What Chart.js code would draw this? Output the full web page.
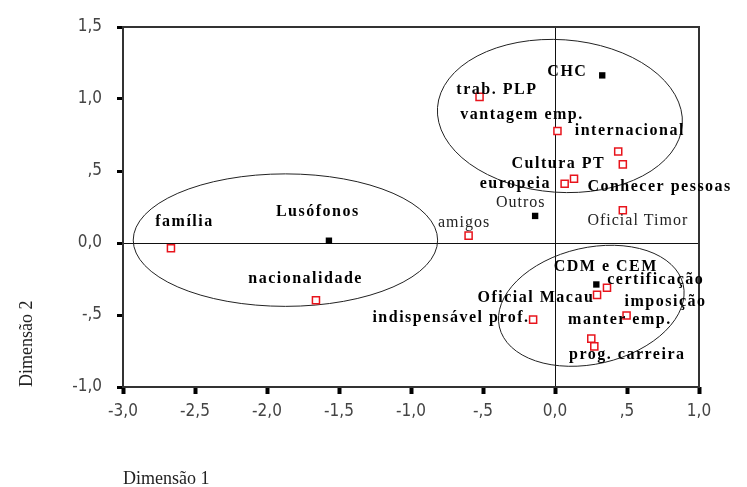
<!DOCTYPE html>
<html>
<head>
<meta charset="utf-8">
<script src="https://cdn.jsdelivr.net/npm/chart.js"></script>
<style>
  body { margin: 0; background: #fff; }
</style>
</head>
<body>
<canvas id="caChart" width="747" height="487"></canvas>
<script>
// Red hollow points (category positions)
const redX = [-2.667, -0.600, -1.660, -0.524, 0.017, 0.439, 0.471, 0.067, 0.132, 0.471, 0.361, 0.292, 0.497, -0.152, 0.252, 0.273];
const redY = [-0.037, 0.051, -0.397, 1.015, 0.778, 0.636, 0.546, 0.411, 0.446, 0.228, -0.311, -0.360, -0.504, -0.532, -0.664, -0.718];

// Black filled points (group positions)
const blackX = [-1.570, 0.328, -0.138, 0.287];
const blackY = [0.016, 1.164, 0.188, -0.288];

// Point labels, anchored at their left edge
const labelText = ["família", "Lusófonos", "amigos", "trab. PLP", "vantagem emp.", "CHC", "internacional",
	"Cultura PT", "europeia", "Conhecer pessoas", "Outros", "Oficial Timor", "nacionalidade", "CDM e CEM",
	"certificação", "Oficial Macau", "imposição", "indispensável prof.", "manter emp.", "prog. carreira"];
const labelX = [-2.776, -1.938, -0.813, -0.685, -0.658, -0.053, 0.137, -0.302, -0.523, 0.225, -0.410, 0.225,
	-2.130, -0.009, 0.363, -0.538, 0.483, -1.268, 0.091, 0.098];
const labelY = [0.148, 0.214, 0.141, 1.066, 0.892, 1.187, 0.780, 0.551, 0.411, 0.388, 0.277, 0.153,
	-0.251, -0.165, -0.253, -0.378, -0.409, -0.521, -0.537, -0.780];
const labelBold = [true, true, false, true, true, true, true, true, true, true, false, false,
	true, true, true, true, true, true, true, true];

// Group ellipses (centre, radii in data units, tilt in degrees)
const ellCx = [-1.872, 0.034, 0.252];
const ellCy = [0.020, 0.882, -0.436];
const ellRx = [1.057, 0.852, 0.655];
const ellRy = [0.460, 0.530, 0.404];
const ellRot = [0, 4, -13];

const xMin = -3.0, xMax = 1.0, yMin = -1.0, yMax = 1.5;

function fmtTick(v) {
	if (Math.abs(v) < 1e-9) return "0,0";
	let s = Math.abs(v).toFixed(1).replace(".", ",");
	if (Math.abs(v) < 1) s = s.slice(1);
	return (v < 0 ? "-" : "") + s;
}

const overlay = {
	id: "overlay",
	beforeDatasetsDraw(chart) {
		const { ctx, chartArea: a, scales } = chart;
		const sx = scales.x, sy = scales.y;
		ctx.save();
		// frame
		ctx.strokeStyle = "#333";
		ctx.lineWidth = 2;
		ctx.strokeRect(a.left, a.top, a.right - a.left, a.bottom - a.top);
		// ellipses
		ctx.strokeStyle = "#222";
		ctx.lineWidth = 1;
		for (let i = 0; i < ellCx.length; i++) {
			const cx = sx.getPixelForValue(ellCx[i]);
			const cy = sy.getPixelForValue(ellCy[i]);
			const rx = sx.getPixelForValue(ellCx[i] + ellRx[i]) - cx;
			const ry = cy - sy.getPixelForValue(ellCy[i] + ellRy[i]);
			ctx.beginPath();
			ctx.ellipse(cx, cy, rx, ry, ellRot[i] * Math.PI / 180, 0, Math.PI * 2);
			ctx.stroke();
		}
		ctx.restore();
	},
	afterDatasetsDraw(chart) {
		const { ctx, scales } = chart;
		ctx.save();
		ctx.textBaseline = "middle";
		ctx.textAlign = "left";
		for (let i = 0; i < labelText.length; i++) {
			ctx.font = (labelBold[i] ? "bold " : "") + '16px "Liberation Serif", "Times New Roman", serif';
			ctx.fillStyle = labelBold[i] ? "#000" : "#222";
			ctx.letterSpacing = labelBold[i] ? "1.5px" : "1px";
			ctx.fillText(labelText[i], scales.x.getPixelForValue(labelX[i]), scales.y.getPixelForValue(labelY[i]));
		}
		ctx.restore();
	},
};

const tickFont = { family: '"Liberation Sans Narrow", "DejaVu Sans Condensed", sans-serif', size: 17 };
const titleFont = { family: '"Liberation Serif", "Times New Roman", serif', size: 18 };
const zeroLine = (c) => (c.tick && Math.abs(c.tick.value) < 1e-9 ? "#111" : "transparent");

new Chart(document.getElementById("caChart"), {
	type: "scatter",
	data: {
		datasets: [
			{
				data: redX.map((x, i) => ({ x: x, y: redY[i] })),
				pointStyle: "rect",
				pointRadius: 5,
				pointBorderWidth: 1.5,
				borderColor: "#e8141c",
				backgroundColor: "#fff",
			},
			{
				data: blackX.map((x, i) => ({ x: x, y: blackY[i] })),
				pointStyle: "rect",
				pointRadius: 4.5,
				pointBorderWidth: 0,
				borderColor: "#000",
				backgroundColor: "#000",
			},
		],
	},
	options: {
		responsive: false,
		animation: false,
		layout: { padding: { top: 27, right: 48, left: 0, bottom: 0 } },
		plugins: { legend: { display: false }, tooltip: { enabled: false } },
		scales: {
			x: {
				type: "linear",
				min: xMin,
				max: xMax,
				afterFit(scale) { scale.height = 100; },
				ticks: { stepSize: 0.5, callback: fmtTick, font: tickFont, color: "#444", padding: 7, maxRotation: 0 },
				grid: { color: zeroLine, lineWidth: 1, tickColor: "#000", tickWidth: 4, tickLength: 7 },
				border: { display: false },
				title: { display: true, text: "Dimensão 1", align: "start", font: titleFont, color: "#222", padding: { top: 0, bottom: -3 } },
			},
			y: {
				type: "linear",
				min: yMin,
				max: yMax,
				afterFit(scale) { scale.width = 123; },
				ticks: { stepSize: 0.5, callback: fmtTick, font: tickFont, color: "#444", padding: 15 },
				grid: { color: zeroLine, lineWidth: 1, tickColor: "#000", tickWidth: 3, tickLength: 6 },
				border: { display: false },
				title: { display: true, text: "Dimensão 2", align: "start", font: titleFont, color: "#222", padding: { top: 16, bottom: 0 } },
			},
		},
	},
	plugins: [overlay],
});
</script>
</body>
</html>
